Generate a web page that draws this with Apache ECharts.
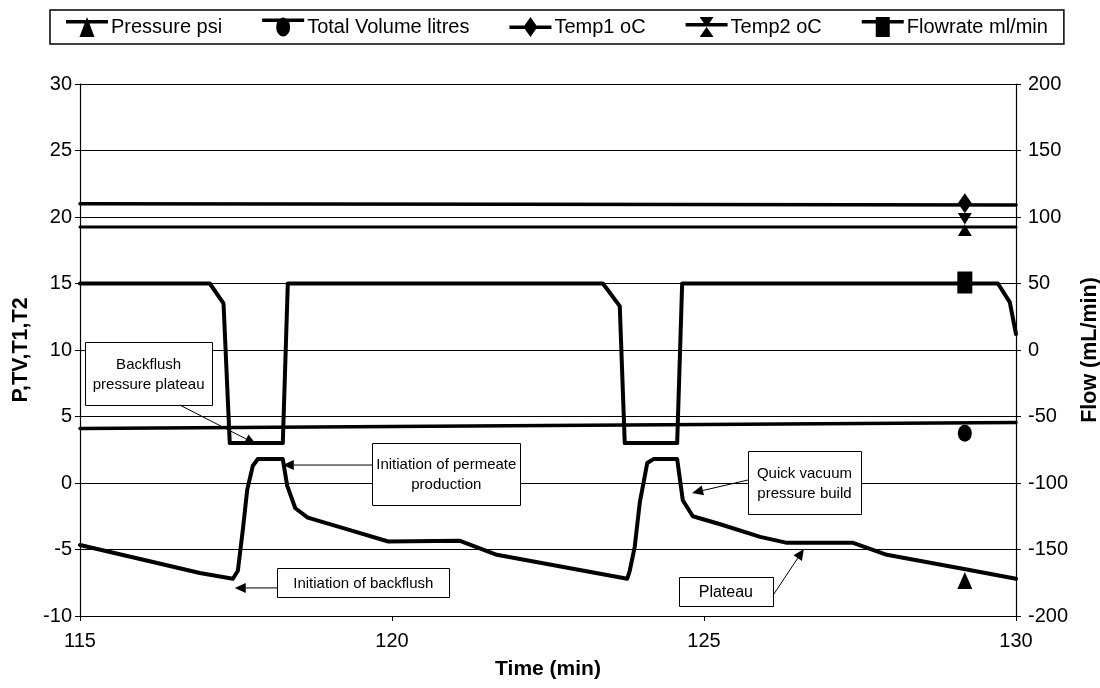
<!DOCTYPE html>
<html>
<head>
<meta charset="utf-8">
<script src="https://cdn.jsdelivr.net/npm/echarts@6/dist/echarts.min.js"></script>
<style>
  html, body { margin: 0; padding: 0; background: #fff; }
  #chart { width: 1100px; height: 688px; }
</style>
</head>
<body>
<div id="chart"></div>
<script>
// ---- Series data (time in minutes) ----
const pressureTime   = [115.00, 116.22, 116.92, 117.45, 117.53, 117.61, 117.68, 117.77, 117.85, 118.25, 118.32, 118.45, 118.65, 119.30, 119.94, 121.09, 121.68, 123.77, 123.81, 123.89, 123.97, 124.09, 124.19, 124.57, 124.66, 124.82, 125.26, 125.90, 126.33, 127.39, 127.93, 129.21, 130.00];
const pressureValues = [-4.66,  -6.00,  -6.77,  -7.20,  -6.60,  -3.50,  -0.50,   1.30,   1.80,   1.80,  -0.20,  -1.90,  -2.60,  -3.50,  -4.40,  -4.35,  -5.40,  -7.20,  -6.60,  -4.80,  -1.50,   1.50,   1.80,   1.80,  -1.30,  -2.50,  -3.10,  -4.05,  -4.50,  -4.50,  -5.40,  -6.50,  -7.20];

const volumeTime   = [115, 120, 125, 130];
const volumeValues = [4.10, 4.25, 4.40, 4.55];

const temp1Time   = [115, 122, 130];
const temp1Values = [21.0, 20.95, 20.9];

const temp2Time   = [115, 130];
const temp2Values = [19.25, 19.25];

const flowTime   = [115, 117.08, 117.30, 117.40, 118.25, 118.33, 123.38, 123.65, 123.73, 124.57, 124.65, 129.71, 129.90, 130.00];
const flowValues = [50,  50,     35,     -70,    -70,    50,     50,     33,     -70,    -70,    50,     50,     36,     12];

// one marker per series, placed on its line
const markerTime = 129.18;
const markerValues = { pressure: -6.5, volume: 4.5, temp1: 20.95, temp2: 19.25, flow: 50 };

// axis ticks
const timeTicks = { min: 115, max: 130, step: 5 };
const leftTicks = { min: -10, max: 30, step: 5 };
const rightTicks = { min: -200, max: 200, step: 50 };

const seriesNames = ['Pressure psi', 'Total Volume litres', 'Temp1 oC', 'Temp2 oC', 'Flowrate ml/min'];

// ---- callout boxes (data coordinates for anchor and arrow) ----
const notes = [
  { text: 'Backflush\npressure plateau', at: [116.10, 8.23], box: [127, 63], from: [116.60, 5.86], to: [117.82, 2.93], font: 15 },
  { text: 'Initiation of permeate\nproduction', at: [120.87, 0.68], box: [148, 62], from: [119.68, 1.35], to: [118.25, 1.35], font: 15 },
  { text: 'Initiation of backflush', at: [119.54, -7.48], box: [172, 29], from: [118.16, -7.89], to: [117.48, -7.89], font: 15 },
  { text: 'Quick vacuum\npressure build', at: [126.61, 0.04], box: [113, 63], from: [125.71, 0.23], to: [124.81, -0.75], font: 15 },
  { text: 'Plateau', at: [125.35, -8.16], box: [94, 29], from: [126.11, -8.42], to: [126.60, -4.96], font: 16 }
];

const FONT = "'Liberation Sans', Arial, sans-serif";
const zip = (xs, ys) => xs.map((x, i) => [x, ys[i]]);

// legend icons: line with a marker, drawn in a 42x20 box
const icons = {
  pressure: 'path://M0 3L42 3L42 6.5L0 6.5Z M21 0L28.5 20L13.5 20Z',
  volume:   'path://M0 2L42 2L42 5.5L0 5.5Z M14 10.5A7 9.5 0 1 1 28 10.5A7 9.5 0 1 1 14 10.5Z',
  temp1:    'path://M0 8.5L42 8.5L42 12L0 12Z M21 0L28 10L21 20L14 10Z',
  temp2:    'path://M0 6L42 6L42 9.5L0 9.5Z M14 0L28 0L21 10Z M21 10L28 20L14 20Z',
  flow:     'path://M0 3L42 3L42 6.5L0 6.5Z M14 0L28 0L28 20L14 20Z'
};

function lineSeries(name, data, yAxisIndex, width, marker) {
  return {
    name, type: 'line', data, yAxisIndex,
    showSymbol: false, symbol: 'none', smooth: false,
    lineStyle: { color: '#000', width, join: 'round', cap: 'round' },
    itemStyle: { color: '#000' },
    emphasis: { disabled: true },
    animation: false,
    markPoint: {
      animation: false,
      silent: true,
      data: [{
        coord: [markerTime, marker.value],
        symbol: marker.symbol,
        symbolSize: marker.size,
        symbolOffset: marker.offset,
        itemStyle: { color: '#000' },
        label: { show: false }
      }]
    }
  };
}

const chart = echarts.init(document.getElementById('chart'), null, { renderer: 'canvas' });

const option = {
  backgroundColor: '#fff',
  animation: false,
  textStyle: { fontFamily: FONT, color: '#000' },
  grid: { left: 80, right: 84, top: 84, bottom: 72, containLabel: false, outerBoundsMode: 'none' },
  legend: {
    left: 50, top: 10,
    padding: [7, 16, 7, 16],
    itemGap: 40,
    itemWidth: 42, itemHeight: 20,
    borderColor: '#000', borderWidth: 1.5,
    textStyle: { fontFamily: FONT, fontSize: 20, color: '#000', padding: [0, 0, 0, -2] },
    selectedMode: false,
    data: [
      { name: seriesNames[0], icon: icons.pressure, itemStyle: { color: '#000' } },
      { name: seriesNames[1], icon: icons.volume, itemStyle: { color: '#000' } },
      { name: seriesNames[2], icon: icons.temp1, itemStyle: { color: '#000' } },
      { name: seriesNames[3], icon: icons.temp2, itemStyle: { color: '#000' } },
      { name: seriesNames[4], icon: icons.flow, itemStyle: { color: '#000' } }
    ]
  },
  xAxis: {
    type: 'value',
    min: timeTicks.min, max: timeTicks.max, interval: timeTicks.step,
    name: 'Time (min)', nameLocation: 'middle', nameGap: 43,
    nameTextStyle: { fontFamily: FONT, fontSize: 21, fontWeight: 'bold', color: '#000' },
    axisLine: { show: true, onZero: false, lineStyle: { color: '#000', width: 1.2 } },
    axisTick: { show: true, inside: false, length: 5, lineStyle: { color: '#000' } },
    axisLabel: { fontFamily: FONT, fontSize: 20, color: '#000', margin: 15 },
    splitLine: { show: false }
  },
  yAxis: [
    {
      type: 'value', position: 'left',
      min: leftTicks.min, max: leftTicks.max, interval: leftTicks.step,
      name: 'P,TV,T1,T2', nameLocation: 'middle', nameGap: 46, nameRotate: 90,
      nameTextStyle: { fontFamily: FONT, fontSize: 21.5, fontWeight: 'bold', color: '#000' },
      axisLine: { show: true, onZero: false, lineStyle: { color: '#000', width: 1.2 } },
      axisTick: { show: true, inside: false, length: 5, lineStyle: { color: '#000' } },
      axisLabel: { fontFamily: FONT, fontSize: 20, color: '#000', margin: 8 },
      splitLine: { show: true, lineStyle: { color: '#000', width: 1 } }
    },
    {
      type: 'value', position: 'right',
      min: rightTicks.min, max: rightTicks.max, interval: rightTicks.step,
      name: 'Flow (mL/min)', nameLocation: 'middle', nameGap: 62, nameRotate: 90,
      nameTextStyle: { fontFamily: FONT, fontSize: 21.5, fontWeight: 'bold', color: '#000' },
      axisLine: { show: true, onZero: false, lineStyle: { color: '#000', width: 1.2 } },
      axisTick: { show: true, inside: false, length: 5, lineStyle: { color: '#000' } },
      axisLabel: { fontFamily: FONT, fontSize: 20, color: '#000', margin: 12 },
      splitLine: { show: false }
    }
  ],
  series: [
    lineSeries(seriesNames[0], zip(pressureTime, pressureValues), 0, 4,
      { value: markerValues.pressure, symbol: 'triangle', size: [15, 17], offset: [0, 11] }),
    lineSeries(seriesNames[1], zip(volumeTime, volumeValues), 0, 3.5,
      { value: markerValues.volume, symbol: 'circle', size: [14, 17], offset: [0, 10] }),
    lineSeries(seriesNames[2], zip(temp1Time, temp1Values), 0, 3.5,
      { value: markerValues.temp1, symbol: 'diamond', size: [14, 20], offset: [0, -1] }),
    lineSeries(seriesNames[3], zip(temp2Time, temp2Values), 0, 3,
      { value: markerValues.temp2, symbol: 'path://M0 0L14 0L7 11.5Z M7 11.5L14 23L0 23Z', size: [14, 23], offset: [0, -2.5] }),
    lineSeries(seriesNames[4], zip(flowTime, flowValues), 1, 4,
      { value: markerValues.flow, symbol: 'rect', size: [15, 22], offset: [0, -1] })
  ]
};

chart.setOption(option);

// callout boxes with arrows, placed through the axes' scales
function drawNotes() {
  const toPx = p => chart.convertToPixel({ xAxisIndex: 0, yAxisIndex: 0 }, p);
  const els = [];
  notes.forEach(n => {
    const c = toPx(n.at);
    const a = toPx(n.from);
    const b = toPx(n.to);
    const w = n.box[0], h = n.box[1];
    els.push({
      type: 'rect', z: 20, silent: true,
      shape: { x: Math.round(c[0] - w / 2) + 0.5, y: Math.round(c[1] - h / 2) + 0.5, width: w, height: h },
      style: { fill: '#fff', stroke: '#000', lineWidth: 1 }
    });
    els.push({
      type: 'text', z: 21, silent: true, x: c[0], y: c[1] + 1,
      style: { text: n.text, align: 'center', verticalAlign: 'middle', fontFamily: FONT, fontSize: n.font, lineHeight: 20, fill: '#000' }
    });
    // arrow shaft and head
    const dx = b[0] - a[0], dy = b[1] - a[1];
    const len = Math.hypot(dx, dy);
    const ux = dx / len, uy = dy / len;
    const headL = 11, headW = 5;
    const baseX = b[0] - ux * headL, baseY = b[1] - uy * headL;
    els.push({
      type: 'line', z: 20, silent: true,
      shape: { x1: a[0], y1: a[1], x2: baseX, y2: baseY },
      style: { stroke: '#000', lineWidth: 1 }
    });
    els.push({
      type: 'polygon', z: 20, silent: true,
      shape: { points: [[b[0], b[1]], [baseX - uy * headW, baseY + ux * headW], [baseX + uy * headW, baseY - ux * headW]] },
      style: { fill: '#000' }
    });
  });
  chart.setOption({ graphic: { elements: els } });
}
drawNotes();
</script>
</body>
</html>
